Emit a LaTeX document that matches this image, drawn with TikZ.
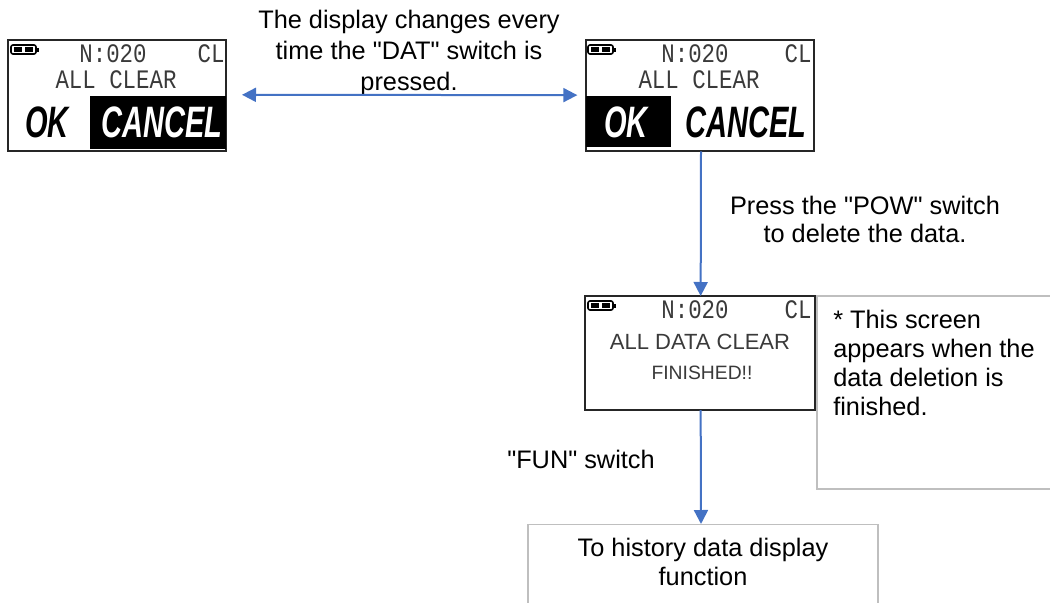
\documentclass[tikz,border=0pt]{standalone}
\usepackage{fontspec}
\setmainfont{Liberation Sans}
\newfontfamily\plainsans{Liberation Sans}
\newfontfamily\lcd{Liberation Mono}
\usetikzlibrary{arrows.meta}
\definecolor{arrowblue}{HTML}{4472C4}
\definecolor{boxgrey}{HTML}{BFBFBF}
\definecolor{lcdgrey}{HTML}{3A3A3A}
\tikzset{
  x=0.75pt,y=-0.75pt,
  screen/.style={draw=black!85,line width=1.3pt,fill=white,inner sep=0pt,outer sep=0pt,anchor=north west},
  greybox/.style={draw=boxgrey,line width=0.9pt},
  lab/.style={font=\plainsans\fontsize{19}{21.5}\selectfont,text=black,inner sep=0pt,align=center},
  note/.style={font=\plainsans\fontsize{19}{21.8}\selectfont,text=black,inner sep=0pt,align=left,anchor=north west},
  link/.style={draw=arrowblue,line width=1.5pt},
  head/.style={-{Triangle[length=10.5pt,width=10.5pt]}},
  lcdtop/.style={font=\lcd\fontsize{20}{20}\selectfont,text=lcdgrey,inner sep=0pt,xscale=0.84},
  lcdbig/.style={font=\plainsans\bfseries\itshape\fontsize{33}{33}\selectfont,inner sep=0pt,xscale=0.66},
  lcdthin/.style={font=\plainsans\fontsize{16.5}{17}\selectfont,text=lcdgrey,inner sep=0pt},
  batterybody/.style={draw=black,line width=1.2pt,rounded corners=1.5pt,fill=white},
}
\newcommand{\batteryicon}[2]{%
  \draw[batterybody] (#1,#2) rectangle ++(25,9);
  \fill[black] (#1+25,#2+2.5) rectangle ++(3,4);
  \fill[black] (#1+3,#2+2) rectangle ++(8,5);
  \fill[black] (#1+14,#2+2) rectangle ++(8,5);
}
\begin{document}
\begin{tikzpicture}
\useasboundingbox (0,0) rectangle (1050,603);
% note box and history box, cut by the page edge
\draw[greybox] (1060,296) -- (817,296) -- (817,489) -- (1060,489);
\node[note] (notetext) at (833,309.5) {* This screen\\appears when the\\data deletion is\\finished.};
\draw[greybox] (528,610) -- (528,524.5) -- (878,524.5) -- (878,610);
\node[lab] (history) at (703,562) {To history data display\\function};
% left screen
\node[screen,minimum width=163.5pt,minimum height=83pt] (s1) at (8,40) {};
\batteryicon{11}{45}
\node[lcdtop] (s1n) at (113,54) {N:020};
\node[lcdtop] (s1c) at (211,54) {CL};
\node[lcdtop] (s1a) at (116,80) {ALL CLEAR};
\node[lcdbig] (s1ok) at (47,122) {OK};
\fill[black] (90,96) rectangle (226,149);
\node[lcdbig,text=white] (s1x) at (162,122) {CANCEL};
% middle screen
\node[screen,minimum width=171pt,minimum height=83.5pt] (s2) at (586,40) {};
\batteryicon{588}{45}
\node[lcdtop] (s2n) at (695,54) {N:020};
\node[lcdtop] (s2c) at (798,54) {CL};
\node[lcdtop] (s2a) at (699,80) {ALL CLEAR};
\fill[black] (586,96) rectangle (671,147);
\node[lcdbig,text=white] (s2ok) at (626,122) {OK};
\node[lcdbig] (s2x) at (746,122) {CANCEL};
% lower screen
\node[screen,minimum width=172.5pt,minimum height=85.5pt] (s3) at (585,296) {};
\batteryicon{588}{301}
\node[lcdtop] (s3n) at (695,310) {N:020};
\node[lcdtop] (s3c) at (798,310) {CL};
\node[lcdthin] (s3a) at (700,342) {ALL DATA CLEAR};
\node[lcdthin,font=\plainsans\fontsize{14.5}{15}\selectfont] (s3b) at (702,373) {FINISHED!!};
% labels
\node[lab,font=\plainsans\fontsize{19}{23.2}\selectfont] (top) at (409,53) {The display changes every\\time the "DAT" switch is\\pressed.};
\node[lab,font=\plainsans\fontsize{19}{21}\selectfont] (pow) at (865,219) {Press the "POW" switch\\to delete the data.};
\node[lab] (fun) at (581,459) {"FUN" switch};
% connectors
\coordinate (s2out) at ([xshift=0.75pt]s2.south);
\coordinate (s3in) at ([xshift=0.5pt]s3.north);
\coordinate (s3out) at ([xshift=0.5pt]s3.south);
\coordinate (histin) at (701,524);
\coordinate (s1side) at ([yshift=0.4pt]s1.east);
\coordinate (s2side) at ([yshift=0.4pt]s2.west);
\draw[link,{Triangle[length=10.5pt,width=10.5pt]}-{Triangle[length=10.5pt,width=10.5pt]},shorten <=12pt,shorten >=6.5pt] (s1side) -- (s2side);
\draw[link,head] (s2out) -- (s3in);
\draw[link,head] (s3out) -- (histin);
\end{tikzpicture}
\end{document}
